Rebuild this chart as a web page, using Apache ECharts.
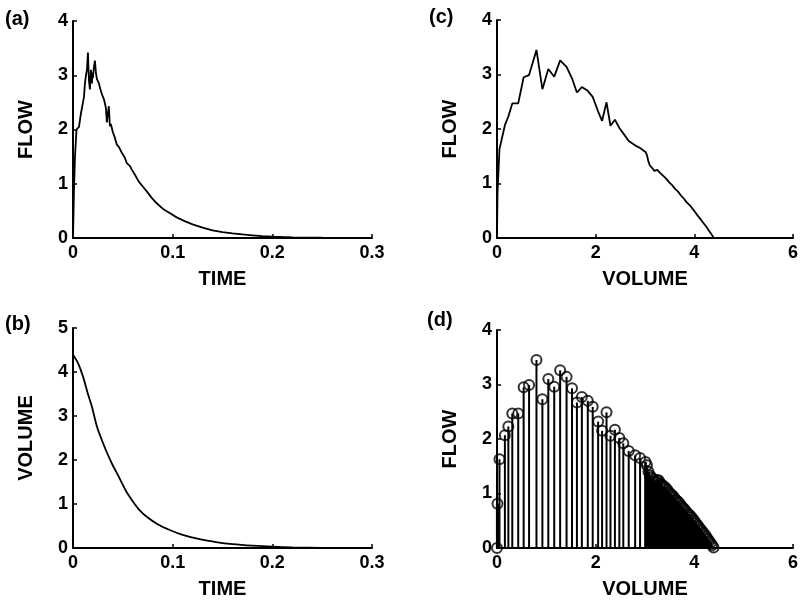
<!DOCTYPE html>
<html>
<head>
<meta charset="utf-8">
<script src="https://cdn.jsdelivr.net/npm/echarts@6/dist/echarts.min.js"></script>
<style>
html,body{margin:0;padding:0;background:#fff;}
#chart{width:802px;height:601px;}
</style>
</head>
<body>
<div id="chart"></div>
<script>
// ---- Panel (a): flow vs time ----
const timeA = [0, 0.001, 0.002, 0.0035, 0.006, 0.008, 0.010, 0.011, 0.012, 0.013, 0.014, 0.015, 0.016, 0.017, 0.018, 0.019, 0.0195, 0.020, 0.021, 0.022, 0.023, 0.024, 0.026, 0.0275, 0.029, 0.031, 0.033, 0.034, 0.035, 0.036, 0.037, 0.038, 0.040, 0.042, 0.044, 0.046, 0.049, 0.052, 0.054, 0.057, 0.059, 0.062, 0.066, 0.070, 0.074, 0.079, 0.084, 0.090, 0.097, 0.104, 0.112, 0.120, 0.130, 0.140, 0.150, 0.160, 0.170, 0.180, 0.190, 0.200, 0.210, 0.220, 0.235, 0.250, 0.270, 0.300];
const flowA = [0, 0.9, 1.5, 2.0, 2.05, 2.3, 2.5, 2.6, 2.85, 3.0, 3.1, 3.42, 2.9, 2.74, 3.1, 2.85, 3.05, 2.95, 3.15, 3.27, 3.05, 2.93, 2.85, 2.74, 2.65, 2.56, 2.4, 2.13, 2.3, 2.43, 2.06, 2.1, 1.95, 1.85, 1.72, 1.68, 1.57, 1.48, 1.38, 1.33, 1.26, 1.17, 1.04, 0.95, 0.86, 0.74, 0.64, 0.54, 0.46, 0.38, 0.31, 0.25, 0.19, 0.14, 0.11, 0.085, 0.065, 0.05, 0.035, 0.025, 0.018, 0.012, 0.008, 0.005, 0.002, 0.0];

// ---- Panel (b): volume vs time ----
const timeB = [0, 0.005, 0.010, 0.015, 0.019, 0.024, 0.029, 0.034, 0.039, 0.0475, 0.053, 0.059, 0.066, 0.074, 0.085, 0.097, 0.110, 0.127, 0.145, 0.160, 0.180, 0.200, 0.220, 0.250, 0.300];
const volB = [4.39, 4.2, 3.9, 3.5, 3.21, 2.76, 2.45, 2.17, 1.92, 1.55, 1.3, 1.09, 0.88, 0.71, 0.54, 0.41, 0.30, 0.20, 0.13, 0.09, 0.055, 0.03, 0.015, 0.005, 0];

// ---- Panels (c) and (d): flow vs volume ----
const volFV = [0, 0.01, 0.05, 0.16, 0.23, 0.31, 0.43, 0.54, 0.65, 0.80, 0.92, 1.04, 1.16, 1.28, 1.41, 1.52, 1.62, 1.72, 1.84, 1.94, 2.05, 2.13, 2.22, 2.30, 2.39, 2.48, 2.56, 2.67, 2.80, 2.90, 3.01,
  3.04, 3.07, 3.10, 3.13, 3.16, 3.19, 3.22, 3.25, 3.28, 3.31, 3.34, 3.37, 3.40, 3.43, 3.46, 3.49, 3.52, 3.55, 3.58, 3.61, 3.64, 3.67, 3.70, 3.73, 3.76, 3.79, 3.82, 3.85, 3.88, 3.91, 3.94, 3.97, 4.00, 4.03, 4.06, 4.09, 4.12, 4.15, 4.18, 4.21, 4.24, 4.27, 4.30, 4.33, 4.36, 4.39];
const flowFV = [0, 0.81, 1.63, 2.07, 2.23, 2.47, 2.47, 2.95, 2.99, 3.45, 2.73, 3.10, 2.96, 3.26, 3.14, 2.93, 2.67, 2.77, 2.70, 2.59, 2.32, 2.15, 2.49, 2.06, 2.17, 2.02, 1.92, 1.78, 1.70, 1.65, 1.58,
  1.52, 1.40, 1.33, 1.30, 1.27, 1.23, 1.22, 1.25, 1.24, 1.19, 1.16, 1.14, 1.12, 1.09, 1.06, 1.02, 0.99, 0.97, 0.94, 0.90, 0.87, 0.85, 0.82, 0.78, 0.75, 0.72, 0.69, 0.65, 0.62, 0.60, 0.57, 0.53, 0.50, 0.46, 0.42, 0.39, 0.35, 0.32, 0.28, 0.25, 0.21, 0.17, 0.13, 0.09, 0.05, 0.01];

// ---- Axis ticks / labels ----
const timeTicks = {min: 0, max: 0.3, interval: 0.1};
const volTicks = {min: 0, max: 6, interval: 2};
const flowTicks = {min: 0, max: 4, interval: 1};
const volTimeTicks = {min: 0, max: 5, interval: 1};
const panelLabels = ['(a)', '(b)', '(c)', '(d)'];
const axisNames = {flow: 'FLOW', time: 'TIME', volume: 'VOLUME'};

const FONT = "'Liberation Sans', Arial, Helvetica, sans-serif";

function baseAxis(gridIndex, name, ticks, isX) {
  return {
    type: 'value', gridIndex: gridIndex,
    min: ticks.min, max: ticks.max, interval: ticks.interval,
    name: name, nameLocation: 'middle', nameGap: isX ? 31 : 37,
    nameTextStyle: {color: '#000', fontWeight: 'bold', fontSize: 20, fontFamily: FONT},
    axisLine: {show: true, onZero: false, lineStyle: {color: '#000', width: 2}},
    axisTick: {show: true, inside: true, length: 4, lineStyle: {color: '#000', width: 1.5}},
    axisLabel: {color: '#000', fontWeight: 'bold', fontSize: 18, fontFamily: FONT, margin: isX ? 6 : 5, showMinLabel: true, showMaxLabel: true},
    splitLine: {show: false}
  };
}

const grids = [
  {left: 73, top: 21, width: 299, height: 217},
  {left: 73, top: 328, width: 299, height: 220},
  {left: 497, top: 20, width: 296, height: 218},
  {left: 497, top: 330, width: 296, height: 218}
];

const xAxes = [
  baseAxis(0, axisNames.time, timeTicks, true),
  baseAxis(1, axisNames.time, timeTicks, true),
  baseAxis(2, axisNames.volume, volTicks, true),
  baseAxis(3, axisNames.volume, volTicks, true)
];
const yAxes = [
  baseAxis(0, axisNames.flow, flowTicks, false),
  baseAxis(1, axisNames.volume, volTimeTicks, false),
  baseAxis(2, axisNames.flow, flowTicks, false),
  baseAxis(3, axisNames.flow, flowTicks, false)
];

const lineStyle = {color: '#000', width: 1.8};
const fvPairs = volFV.map((v, i) => [v, flowFV[i]]);

const series = [
  {type: 'line', xAxisIndex: 0, yAxisIndex: 0, data: timeA.map((t, i) => [t, flowA[i]]), showSymbol: false, lineStyle: lineStyle, itemStyle: {color: '#000'}},
  {type: 'line', xAxisIndex: 1, yAxisIndex: 1, data: timeB.map((t, i) => [t, volB[i]]), showSymbol: false, smooth: 0.3, lineStyle: lineStyle, itemStyle: {color: '#000'}},
  {type: 'line', xAxisIndex: 2, yAxisIndex: 2, data: fvPairs, showSymbol: false, lineStyle: lineStyle, itemStyle: {color: '#000'}},
  {
    type: 'custom', xAxisIndex: 3, yAxisIndex: 3, data: fvPairs,
    encode: {x: 0, y: 1},
    renderItem: function (params, api) {
      const i = params.dataIndex;
      const p0 = api.coord([api.value(0), 0]);
      const p1 = api.coord([api.value(0), api.value(1)]);
      // widen stems where neighbours are packed closer than the stroke, so they merge
      let w = 2;
      if (i + 1 < volFV.length) {
        const pn = api.coord([volFV[i + 1], 0]);
        const gap = pn[0] - p0[0];
        if (gap > 0 && gap < 3) w = gap + 1.2;
      }
      return {type: 'line', shape: {x1: p0[0], y1: p0[1], x2: p1[0], y2: p1[1]}, style: {stroke: '#000', lineWidth: w}};
    },
    z: 2
  },
  {
    type: 'scatter', xAxisIndex: 3, yAxisIndex: 3, data: fvPairs,
    symbol: 'circle', symbolSize: 10, clip: false,
    itemStyle: {color: 'rgba(255,255,255,0)', borderColor: '#000', borderWidth: 2},
    z: 3
  }
];

const labelPos = [[5, 20], [5, 325], [429, 18], [427, 321]];
const graphic = panelLabels.map((t, i) => ({
  type: 'text', left: labelPos[i][0], top: labelPos[i][1] - 11,
  style: {text: t, fill: '#000', font: 'bold 20px ' + FONT}
}));

const chart = echarts.init(document.getElementById('chart'), null, {renderer: 'canvas'});
chart.setOption({
  animation: false,
  backgroundColor: '#fff',
  grid: grids,
  xAxis: xAxes,
  yAxis: yAxes,
  series: series,
  graphic: graphic
});
</script>
</body>
</html>
